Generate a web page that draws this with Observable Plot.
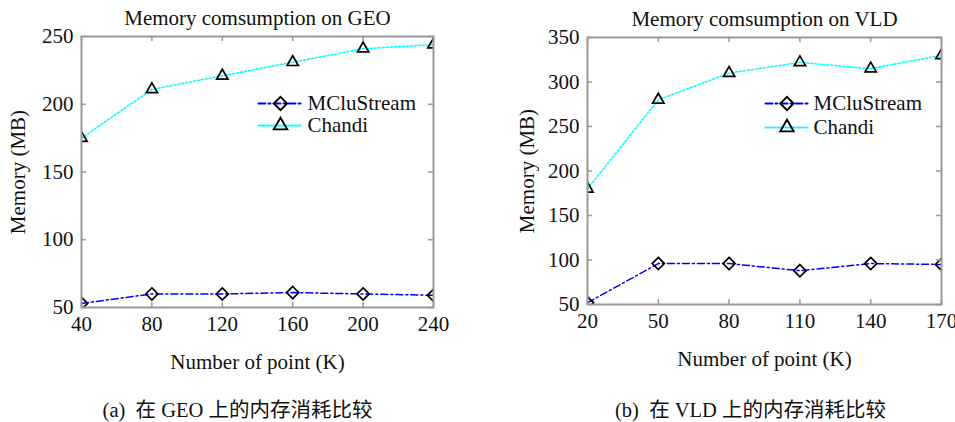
<!DOCTYPE html>
<html>
<head>
<meta charset="utf-8">
<script src="https://cdn.jsdelivr.net/npm/d3@7"></script>
<script src="https://cdn.jsdelivr.net/npm/@observablehq/plot@0.6"></script>
<style>
  html, body { margin: 0; padding: 0; background: #fff; }
  #wrap { display: flex; width: 955px; height: 422px; overflow: hidden; }
</style>
</head>
<body>
<div id="wrap"></div>
<script>
// ---- data ----
const geoPoints = [40, 80, 120, 160, 200, 240];
const geoMCluStream = [53, 60, 60, 61, 60, 59];
const geoChandi = [175, 211, 221, 231, 241, 244];
const geoYTicks = [50, 100, 150, 200, 250];

const vldPoints = [20, 50, 80, 110, 140, 170];
const vldMCluStream = [52, 96, 96, 88, 96, 95];
const vldChandi = [180, 280, 310, 322, 315, 330];
const vldYTicks = [50, 100, 150, 200, 250, 300, 350];

const seriesNames = ["MCluStream", "Chandi"];
const titles = ["Memory comsumption on GEO", "Memory comsumption on VLD"];
const captions = ["(a)  在 GEO 上的内存消耗比较", "(b)  在 VLD 上的内存消耗比较"];
const xLabel = "Number of point (K)";
const yLabel = "Memory (MB)";

const FONT = "'Liberation Serif', 'Times New Roman', 'Noto Sans CJK SC', serif";
const FS = 21;
const lineShape = {
  draw(context, l) { context.moveTo(0, 0); context.lineTo(0, -l); }
};

function panel(o) {
  const H = o.height - o.marginTop - o.marginBottom;
  const W = o.width - o.marginLeft - o.marginRight;
  const mclu = o.xs.map((x, i) => ({x, y: o.mclu[i]}));
  const chandi = o.xs.map((x, i) => ({x, y: o.chandi[i]}));
  const axisColor = "#999";
  const tk = 5;
  const txt = {fontSize: FS, fill: "#111", lineAnchor: "middle", textAnchor: "middle"};
  return Plot.plot({
    width: o.width, height: o.height,
    marginLeft: o.marginLeft, marginRight: o.marginRight,
    marginTop: o.marginTop, marginBottom: o.marginBottom,
    style: {fontFamily: FONT, fontSize: FS + "px", background: "transparent", color: "#111", overflow: "visible"},
    x: {domain: o.xDomain},
    y: {domain: o.yDomain},
    marks: [
      // series (clipped to the axes box, as in the original)
      Plot.line(chandi, {x: "x", y: "y", stroke: "#00ffff", strokeWidth: 1.5, strokeDasharray: "2,2", clip: true}),
      Plot.line(mclu, {x: "x", y: "y", stroke: "#0000ff", strokeWidth: 1.5, strokeDasharray: "7,3,2,3", clip: true}),
      Plot.dot(chandi, {x: "x", y: "y", symbol: "triangle", r: 4.2, stroke: "black", strokeWidth: 1.7, fill: "none", clip: true}),
      Plot.dot(mclu, {x: "x", y: "y", symbol: "diamond2", r: 5.5, stroke: "black", strokeWidth: 1.7, fill: "none", clip: true}),
      Plot.frame({stroke: axisColor, strokeWidth: 2}),
      // inward ticks on all sides
      Plot.tickX(o.xs, {x: d => d, insetTop: H - tk, stroke: axisColor, strokeWidth: 1.5}),
      Plot.tickX(o.xs, {x: d => d, insetBottom: H - tk, stroke: axisColor, strokeWidth: 1.5}),
      Plot.tickY(o.yTicks, {y: d => d, insetRight: W - tk, stroke: axisColor, strokeWidth: 1.5}),
      Plot.tickY(o.yTicks, {y: d => d, insetLeft: W - tk, stroke: axisColor, strokeWidth: 1.5}),
      Plot.axisX(o.xs, {tickSize: 0, tickPadding: 9, label: null, fontSize: FS, tickFormat: d => String(d)}),
      Plot.axisY(o.yTicks, {tickSize: 0, tickPadding: 8, label: null, fontSize: FS, tickFormat: d => String(d)}),
      // legend
      Plot.vector([0], {frameAnchor: "top-left", dx: o.legDx, dy: o.legDy[0], length: o.legLen, rotate: 90, anchor: "start",
        shape: lineShape, stroke: "#0000ff", strokeWidth: 2, strokeDasharray: "7,3,2,3"}),
      Plot.vector([0], {frameAnchor: "top-left", dx: o.legDx, dy: o.legDy[1], length: o.legLen, rotate: 90, anchor: "start",
        shape: lineShape, stroke: "#00ffff", strokeWidth: 2, strokeDasharray: "2,2"}),
      Plot.dot([0], {frameAnchor: "top-left", dx: o.legDx + o.legLen / 2, dy: o.legDy[0], symbol: "diamond2", r: 6, stroke: "black", strokeWidth: 1.9, fill: "none"}),
      Plot.dot([0], {frameAnchor: "top-left", dx: o.legDx + o.legLen / 2, dy: o.legDy[1], symbol: "triangle", r: 5, stroke: "black", strokeWidth: 1.9, fill: "none"}),
      Plot.text([seriesNames[0]], {...txt, frameAnchor: "top-left", dx: o.legDx + o.legLen + 5, dy: o.legDy[0], textAnchor: "start"}),
      Plot.text([seriesNames[1]], {...txt, frameAnchor: "top-left", dx: o.legDx + o.legLen + 5, dy: o.legDy[1], textAnchor: "start"}),
      // texts
      Plot.text([o.title], {...txt, frameAnchor: "top", dy: -18}),
      Plot.text([xLabel], {...txt, frameAnchor: "bottom", dy: 55}),
      Plot.text([yLabel], {...txt, frameAnchor: "left", dx: o.yLabDx, rotate: -90}),
      Plot.text([o.caption], {...txt, frameAnchor: "bottom", dx: o.capDx, dy: o.capDy, fontSize: 20.5})
    ]
  });
}

const wrap = document.getElementById("wrap");
wrap.append(panel({
  width: 477, height: 422, marginLeft: 81, marginRight: 44, marginTop: 36, marginBottom: 115,
  xs: geoPoints, mclu: geoMCluStream, chandi: geoChandi, yTicks: geoYTicks,
  xDomain: [40, 240], yDomain: [50, 250],
  legDx: 177, legDy: [67, 89], legLen: 44, yLabDx: -63, capDx: -20, capDy: 103,
  title: titles[0], caption: captions[0]
}));
wrap.append(panel({
  width: 478, height: 422, marginLeft: 110, marginRight: 14, marginTop: 37, marginBottom: 118,
  xs: vldPoints, mclu: vldMCluStream, chandi: vldChandi, yTicks: vldYTicks,
  xDomain: [20, 170], yDomain: [50, 350],
  legDx: 178, legDy: [66, 90], legLen: 43, yLabDx: -60, capDx: -14, capDy: 106,
  title: titles[1], caption: captions[1]
}));
</script>
</body>
</html>
